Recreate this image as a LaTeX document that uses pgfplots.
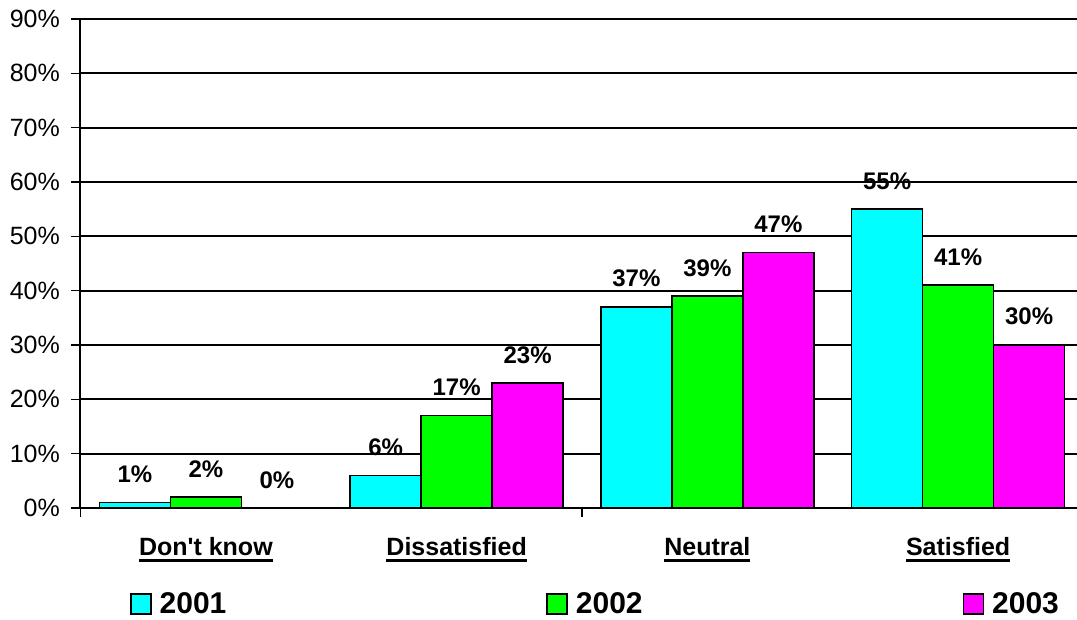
\documentclass[border=0pt]{standalone}
\usepackage{fontspec}
\setmainfont{Liberation Sans}
\usepackage{pgfplots}
\pgfplotsset{compat=1.18}
\definecolor{cA}{HTML}{00FFFF}
\definecolor{cB}{HTML}{00FF00}
\definecolor{cC}{HTML}{FF00FF}
\newcommand\ul[1]{\setbox0\hbox{#1}\rlap{\rule[-7pt]{\wd0}{3pt}}\box0}
\begin{document}
\begin{tikzpicture}
\useasboundingbox (-80.5pt,-112pt) rectangle (996.5pt,508pt);
\begin{axis}[
  at={(0pt,0pt)}, anchor=south west,
  scale only axis, width=1003pt, height=489pt,
  xmin=-0.5, xmax=3.5, ymin=0, ymax=90,
  ybar=0pt, bar width=71pt,
  axis lines*=left,
  axis line style={black, line width=2pt},
  ymajorgrids, grid style={black, line width=2pt},
  ytick={0,10,...,90},
  yticklabel={\pgfmathprintnumber[assume math mode=true]{\tick}\%},
  tick align=outside, major tick length=9pt,
  tick style={black, line width=1.5pt},
  xtick={-0.5,1.5,3.5}, xticklabels={},
  extra x ticks={0,1,2,3},
  extra x tick labels={\ul{Don\textquotesingle t know},\ul{Dissatisfied},\ul{Neutral},\ul{Satisfied}},
  extra x tick style={major tick length=0pt},
  xticklabel style={font=\fontsize{25}{30}\bfseries\selectfont, anchor=north, inner sep=0pt, yshift=-29pt},
  yticklabel style={font=\fontsize{25}{30}\selectfont, anchor=east, inner sep=0pt, xshift=-11.5pt},
  nodes near coords={\pgfmathprintnumber[assume math mode=true]{\pgfplotspointmeta}\%},
  every node near coord/.append style={font=\fontsize{24}{24}\bfseries\selectfont, text=black, anchor=south, inner sep=0pt, yshift=19pt},
  legend columns=3,
  legend cell align=left,
  legend style={at={(axis description cs:0.04935,-0.1963)}, anchor=west, draw=none, fill=none, inner sep=0pt,
    font=\fontsize{30}{30}\bfseries\selectfont,
    nodes={inner sep=0pt},
    /tikz/every odd column/.append style={column sep=8pt},
    /tikz/every even column/.append style={column sep=320pt}},
]
\addplot[fill=cA, draw=black, line width=1.5pt,
  legend image code/.code={\draw[fill=cA, draw=black, line width=1.5pt] (0pt,-10pt) rectangle (20pt,10pt);}]
  coordinates {(0,1) (1,6) (2,37) (3,55)};
\addplot[fill=cB, draw=black, line width=1.5pt,
  legend image code/.code={\draw[fill=cB, draw=black, line width=1.5pt] (0pt,-10pt) rectangle (20pt,10pt);}]
  coordinates {(0,2) (1,17) (2,39) (3,41)};
\addplot[fill=cC, draw=black, line width=1.5pt,
  legend image code/.code={\draw[fill=cC, draw=black, line width=1.5pt] (0pt,-10pt) rectangle (20pt,10pt);}]
  coordinates {(0,0) (1,23) (2,47) (3,30)};
\legend{2001,2002,2003}
\end{axis}
\end{tikzpicture}
\end{document}
